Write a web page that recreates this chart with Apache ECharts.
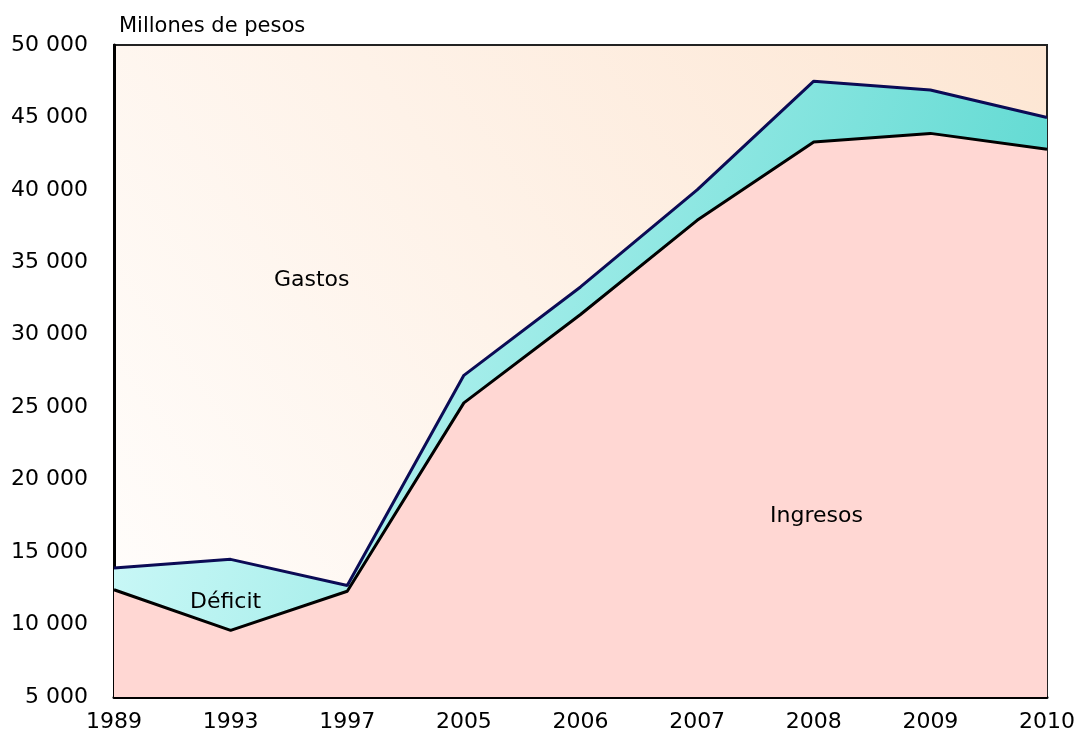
<!DOCTYPE html>
<html>
<head>
<meta charset="utf-8">
<script src="https://cdn.jsdelivr.net/npm/echarts@6/dist/echarts.min.js"></script>
<style>
  html, body { margin: 0; padding: 0; background: #fff; }
  #chart { width: 1077px; height: 738px; }
</style>
</head>
<body>
<div id="chart"></div>
<script>
// años del eje x
var years = ['1989', '1993', '1997', '2005', '2006', '2007', '2008', '2009', '2010'];
// millones de pesos
var gastos = [13900, 14500, 12700, 27200, 33300, 40000, 47500, 46900, 45000];
var ingresos = [12400, 9600, 12300, 25300, 31400, 37900, 43300, 43900, 42800];

var fontName = 'DejaVu Sans';

function miles(v) {
  return String(v).replace(/\B(?=(\d{3})+(?!\d))/g, ' ');
}

var chart = echarts.init(document.getElementById('chart'));
chart.setOption({
  animation: false,
  backgroundColor: '#fff',
  title: {
    text: 'Millones de pesos',
    left: 114,
    top: 11,
    textStyle: { fontFamily: fontName, fontSize: 21, fontWeight: 'normal', color: '#000' }
  },
  grid: {
    left: 114,
    right: 30,
    top: 45,
    bottom: 41,
    outerBoundsMode: 'none',
    show: true,
    borderColor: '#222',
    borderWidth: 2,
    backgroundColor: new echarts.graphic.LinearGradient(0, 1, 1, 0, [
      { offset: 0, color: '#fffefd' },
      { offset: 1, color: '#fde6d3' }
    ])
  },
  xAxis: {
    type: 'category',
    data: years,
    boundaryGap: false,
    axisLine: { show: true, lineStyle: { color: '#000', width: 3 } },
    axisTick: { show: false },
    splitLine: { show: false },
    axisLabel: { fontFamily: fontName, fontSize: 22, color: '#000', margin: 14, interval: 0 }
  },
  yAxis: {
    type: 'value',
    min: 5000,
    max: 50000,
    interval: 5000,
    axisLine: { show: true, lineStyle: { color: '#000', width: 3 } },
    axisTick: { show: false },
    splitLine: { show: false },
    axisLabel: { fontFamily: fontName, fontSize: 22, color: '#000', margin: 26, formatter: miles }
  },
  series: [
    {
      name: 'Gastos',
      type: 'line',
      data: gastos,
      symbol: 'none',
      z: 2,
      lineStyle: { color: '#0b0b55', width: 3 },
      areaStyle: {
        origin: 'start',
        opacity: 1,
        color: new echarts.graphic.LinearGradient(0, 0, 1, 0.5, [
          { offset: 0, color: '#dcfdfd' },
          { offset: 1, color: '#5ad8d0' }
        ])
      }
    },
    {
      name: 'Ingresos',
      type: 'line',
      data: ingresos,
      symbol: 'none',
      z: 3,
      lineStyle: { color: '#000', width: 3 },
      areaStyle: { origin: 'start', opacity: 1, color: '#ffd7d3' }
    }
  ],
  graphic: [
    { type: 'text', z: 100, left: 274, top: 269, style: { text: 'Gastos', font: '22px "DejaVu Sans"', fill: '#000' } },
    { type: 'text', z: 100, left: 190, top: 591, style: { text: 'Déficit', font: '22px "DejaVu Sans"', fill: '#000' } },
    { type: 'text', z: 100, left: 770, top: 505, style: { text: 'Ingresos', font: '22px "DejaVu Sans"', fill: '#000' } }
  ]
});
</script>
</body>
</html>
